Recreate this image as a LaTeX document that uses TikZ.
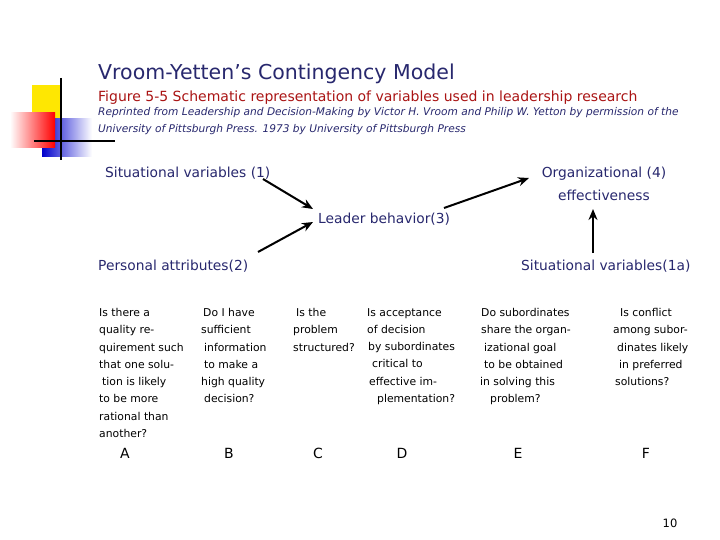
\documentclass[tikz,border=0pt]{standalone}
\usepackage{fontspec}
\setmainfont{DejaVu Sans}
\usetikzlibrary{arrows.meta}
\definecolor{navy}{RGB}{40,40,110}
\definecolor{dred}{RGB}{170,20,20}
\begin{document}
\begin{tikzpicture}[x=1pt,y=-1pt,
  lab/.style={anchor=north west,inner sep=0pt,text=navy,font=\fontsize{13.8}{22.5}\selectfont},
  q/.style={anchor=north west,inner sep=0pt,align=left,font=\fontsize{10.8}{17.3}\selectfont,text=black},
  letter/.style={anchor=north,inner sep=0pt,font=\fontsize{14}{16}\selectfont},
  arr/.style={-{Stealth[length=11pt,width=9pt]},line width=2pt}]
\useasboundingbox (0,0) rectangle (720,540);
\fill[white] (0,0) rectangle (720,540);
% decoration
\fill[yellow!90!orange] (32,85) rectangle (62,125);
\shade[left color=blue!80!black,right color=white] (42,119) rectangle (92,157);
\shade[left color=white,right color=red] (10,113) rectangle (55,148);
\draw[line width=2.5pt] (61,78) -- (61,160);
\draw[line width=2.5pt] (34,141) -- (115,141);
% titles
\node[lab,font=\fontsize{20.5}{22}\selectfont] (t) at (98,64) {Vroom-Yetten’s Contingency Model};
\node[lab,text=dred,font=\fontsize{14}{16}\selectfont] (f) at (98,91) {Figure 5-5 Schematic representation of variables used in leadership research};
\node[lab,align=left,font=\fontsize{10.6}{17}\itshape\selectfont] (r) at (98,107) {Reprinted from Leadership and Decision-Making by Victor H. Vroom and Philip W. Yetton by permission of the\\University of Pittsburgh Press. 1973 by University of Pittsburgh Press};
% variables
\node[lab] (s1) at (105,167) {Situational variables (1)};
\node[lab,align=center,anchor=north] (o4) at (604,167) {Organizational (4)\\effectiveness};
\node[lab] (lb) at (318,213) {Leader behavior(3)};
\node[lab] (pa) at (98,260) {Personal attributes(2)};
\node[lab] (s1a) at (521,260) {Situational variables(1a)};
\coordinate (a1) at (263,179);
\coordinate (a2) at (313,209);
\coordinate (b1) at (258,252);
\coordinate (b2) at (313,222);
\coordinate (c1) at (444,208);
\coordinate (c2) at (529,178);
\coordinate (d1) at (593,253);
\coordinate (d2) at (593,209);
\draw[arr] (a1) -- (a2);
\draw[arr] (b1) -- (b2);
\draw[arr] (c1) -- (c2);
\draw[arr] (d1) -- (d2);
% questions
\node[q] (qa) at (99,308) {Is there a\\quality re-\\quirement such\\that one solu-\\\hspace*{3pt}tion is likely\\to be more\\rational than\\another?};
\node[q] (qb) at (201,308) {\hspace*{2pt}Do I have\\sufficient\\\hspace*{3pt}information\\\hspace*{3pt}to make a\\high quality\\\hspace*{3pt}decision?};
\node[q] (qc) at (293,308) {\hspace*{3pt}Is the\\problem\\structured?};
\node[q] (qd) at (367,308) {Is acceptance\\of decision\\\hspace*{1pt}by subordinates\\\hspace*{5pt}critical to\\\hspace*{2pt}effective im-\\\hspace*{10pt}plementation?};
\node[q] (qe) at (480,308) {\hspace*{1pt}Do subordinates\\\hspace*{1pt}share the organ-\\\hspace*{4pt}izational goal\\\hspace*{4pt}to be obtained\\in solving this\\\hspace*{10pt}problem?};
\node[q] (qf) at (613,308) {\hspace*{7pt}Is conflict\\among subor-\\\hspace*{4pt}dinates likely\\\hspace*{6pt}in preferred\\\hspace*{2pt}solutions?};
\node[letter] (A) at (125,448) {A};
\node[letter] (B) at (229,448) {B};
\node[letter] (C) at (318,448) {C};
\node[letter] (D) at (402,448) {D};
\node[letter] (E) at (518,448) {E};
\node[letter] (F) at (646,448) {F};
\node[inner sep=0pt,font=\fontsize{11.5}{13}\selectfont] (pg) at (670,523) {10};
\end{tikzpicture}
\end{document}
